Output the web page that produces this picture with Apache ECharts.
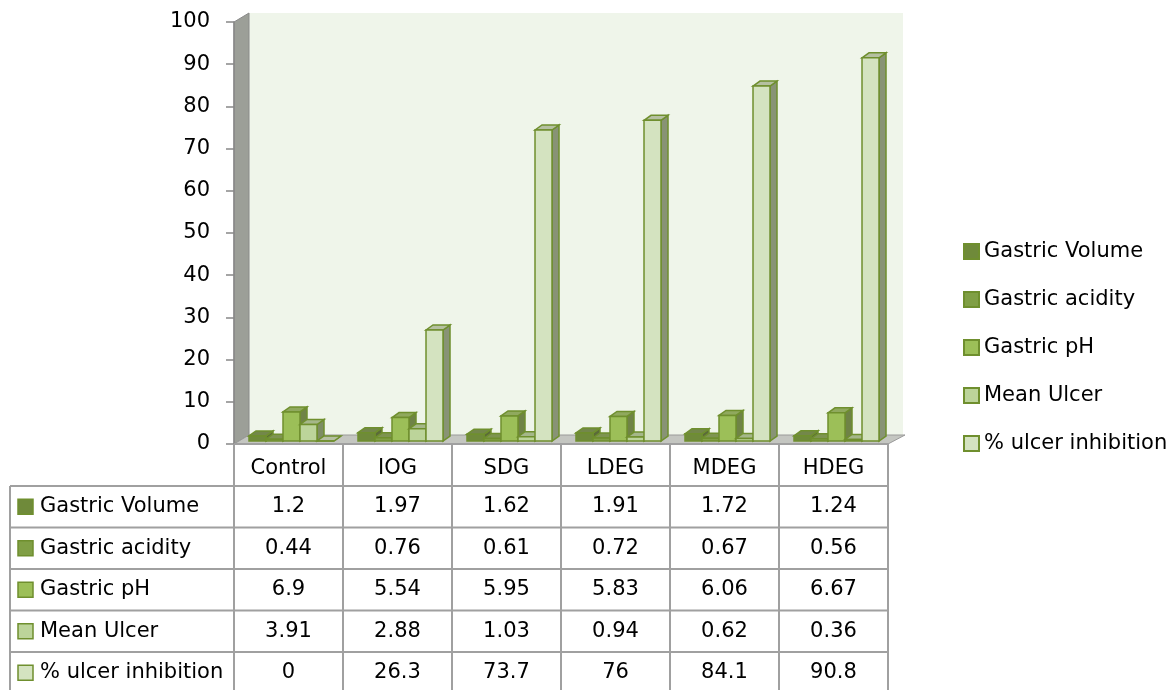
<!DOCTYPE html>
<html>
<head>
<meta charset="utf-8">
<script src="https://cdn.jsdelivr.net/npm/echarts@6/dist/echarts.min.js"></script>
<style>html,body{margin:0;padding:0;background:#fff}#c{width:1174px;height:690px}</style>
</head>
<body>
<div id="c"></div>
<script>
const categories = ['Control', 'IOG', 'SDG', 'LDEG', 'MDEG', 'HDEG'];
const seriesNames = ['Gastric Volume', 'Gastric acidity', 'Gastric pH', 'Mean Ulcer', '% ulcer inhibition'];
const gastricVolume = [1.2, 1.97, 1.62, 1.91, 1.72, 1.24];
const gastricAcidity = [0.44, 0.76, 0.61, 0.72, 0.67, 0.56];
const gastricPH = [6.9, 5.54, 5.95, 5.83, 6.06, 6.67];
const meanUlcer = [3.91, 2.88, 1.03, 0.94, 0.62, 0.36];
const ulcerInhibition = [0, 26.3, 73.7, 76, 84.1, 90.8];
const yTicks = [0, 10, 20, 30, 40, 50, 60, 70, 80, 90, 100];

const allSeries = [gastricVolume, gastricAcidity, gastricPH, meanUlcer, ulcerInhibition];
const colors = ['#6f8a3a', '#809f45', '#9cbf58', '#bcd49a', '#d4e3c0'];
const borderColor = '#6f8f2e';
const FONT = 'DejaVu Sans';
const FS = 21;

const W = 1174, H = 690;
const gL = 234, gR = 888, gT = 22, gB = 444;
const DX = 15, DY = 9;       // wall/floor depth
const BDX = 7, BDY = 5;      // bar depth
const BAR_FRAC = 0.156;

function hex2rgb(c) { return [1, 3, 5].map(i => parseInt(c.substr(i, 2), 16)); }
function mix(c1, c2, t) {
  const a = hex2rgb(c1), b = hex2rgb(c2);
  return 'rgb(' + a.map((v, i) => Math.round(v * (1 - t) + b[i] * t)).join(',') + ')';
}

function make3D(sIdx) {
  return function (params, api) {
    const ci = api.value(0), v = api.value(1);
    const base = api.coord([ci, 0]);
    const top = api.coord([ci, v]);
    const band = api.size([1, 0])[0];
    const w = band * BAR_FRAC;
    const x0 = base[0] - 2.5 * w + sIdx * w + 3;
    const x1 = x0 + w;
    const yb = base[1] - 3;
    const yt = Math.min(top[1] - 3, yb);
    const c = colors[sIdx];
    const sw = 1.5;
    return {
      type: 'group',
      children: [
        { type: 'polygon', shape: { points: [[x1, yt], [x1 + BDX, yt - BDY], [x1 + BDX, yb - BDY], [x1, yb]] },
          style: { fill: mix(c, '#4a5238', 0.55), stroke: borderColor, lineWidth: sw } },
        { type: 'polygon', shape: { points: [[x0, yt], [x0 + BDX, yt - BDY], [x1 + BDX, yt - BDY], [x1, yt]] },
          style: { fill: mix(c, '#7a8068', 0.35), stroke: borderColor, lineWidth: sw } },
        { type: 'rect', shape: { x: x0, y: yt, width: w, height: yb - yt },
          style: { fill: c, stroke: borderColor, lineWidth: sw } }
      ]
    };
  };
}

const chart = echarts.init(document.getElementById('c'), null, { renderer: 'canvas' });

const option = {
  animation: false,
  backgroundColor: '#ffffff',
  textStyle: { fontFamily: FONT },
  grid: { left: gL, right: W - gR, top: gT, bottom: H - gB, containLabel: false },
  legend: {
    orient: 'vertical', left: 958, top: 236, itemGap: 27,
    itemWidth: 15, itemHeight: 15, icon: 'rect',
    textStyle: { fontFamily: FONT, fontSize: FS, color: '#000', lineHeight: 21 },
    data: seriesNames
  },
  xAxis: {
    type: 'category', data: categories,
    axisLine: { show: true, lineStyle: { color: '#a0a0a0', width: 2 } },
    axisTick: { show: true, length: H - gB, interval: 0, alignWithLabel: false, lineStyle: { color: '#a0a0a0', width: 2 } },
    axisLabel: { fontFamily: FONT, fontSize: FS, color: '#000', margin: 14, interval: 0 },
    splitLine: { show: false }
  },
  yAxis: {
    type: 'value', min: yTicks[0], max: yTicks[yTicks.length - 1], interval: 10,
    axisLine: { show: true, lineStyle: { color: '#888', width: 1.5 } },
    axisTick: { show: true, length: 8, lineStyle: { color: '#888', width: 1.5 } },
    axisLabel: { fontFamily: FONT, fontSize: FS, color: '#000', margin: 24 },
    splitLine: { show: false }
  },
  series: allSeries.map((arr, s) => ({
    name: seriesNames[s],
    type: 'custom',
    renderItem: make3D(s),
    itemStyle: { color: colors[s], borderColor: borderColor, borderWidth: 1.5 },
    encode: { x: 0, y: 1 },
    data: arr.map((v, i) => [i, v]),
    z: 3
  }))
};
chart.setOption(option);

// walls, floor and data table
const g = [];
g.push({ type: 'rect', z: -10, shape: { x: gL + DX, y: gT - DY, width: gR - gL, height: gB - gT }, style: { fill: '#eff5ea' } });
g.push({ type: 'polygon', z: -9, shape: { points: [[gL, gB], [gL, gT], [gL + DX, gT - DY], [gL + DX, gB - DY]] },
  style: { fill: '#9c9f98', stroke: '#8a8a8a', lineWidth: 1 } });
g.push({ type: 'polygon', z: -9, shape: { points: [[gL, gB], [gR, gB], [gR + DX + 2, gB - DY], [gL + DX, gB - DY]] },
  style: { fill: '#c4c6c1', stroke: '#9a9a9a', lineWidth: 1 } });

const headerBottom = 486, rowH = 41.5, tableLeft = 10;
for (let r = 0; r < 5; r++) {
  const y = headerBottom + r * rowH;
  g.push({ type: 'line', shape: { x1: tableLeft, y1: y, x2: gR, y2: y }, style: { stroke: '#a0a0a0', lineWidth: 2 } });
}
g.push({ type: 'line', shape: { x1: tableLeft, y1: headerBottom, x2: tableLeft, y2: H }, style: { stroke: '#a0a0a0', lineWidth: 2 } });

allSeries.forEach((arr, s) => {
  const cy = headerBottom + s * rowH + rowH / 2;
  g.push({ type: 'rect', shape: { x: 18, y: cy - 7.5, width: 15, height: 15 },
    style: { fill: colors[s], stroke: borderColor, lineWidth: 1.5 } });
  g.push({ type: 'text', style: { text: seriesNames[s], x: 40, y: cy, fontFamily: FONT, fontSize: FS, fill: '#000', textVerticalAlign: 'middle', verticalAlign: 'middle' } });
  arr.forEach((v, i) => {
    const cx = chart.convertToPixel({ xAxisIndex: 0 }, i);
    g.push({ type: 'text', style: { text: String(v), x: cx, y: cy, fontFamily: FONT, fontSize: FS, fill: '#000', textAlign: 'center', align: 'center', textVerticalAlign: 'middle', verticalAlign: 'middle' } });
  });
});
chart.setOption({ graphic: g });
</script>
</body>
</html>
